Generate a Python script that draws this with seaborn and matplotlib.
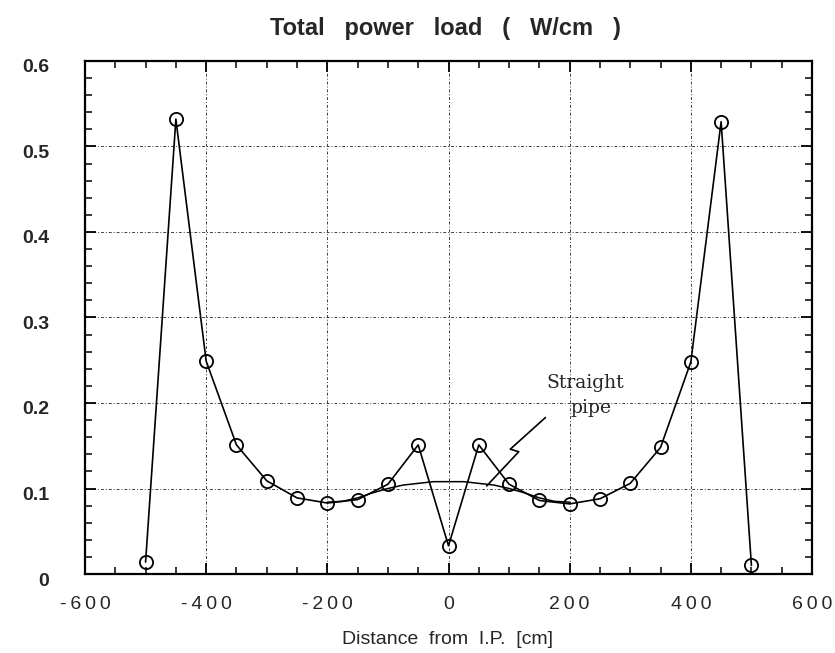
import numpy as np
import pandas as pd
import matplotlib
matplotlib.use("Agg")
import matplotlib.pyplot as plt
import matplotlib.transforms as mtransforms
import seaborn as sns
from matplotlib.ticker import MultipleLocator

# ---- data ----
distance = [-500, -450, -400, -350, -300, -250, -200, -150, -100, -50, 0,
            50, 100, 150, 200, 250, 300, 350, 400, 450, 500]
power = [0.014, 0.532, 0.249, 0.151, 0.109, 0.089, 0.083, 0.087, 0.105, 0.151, 0.033,
         0.151, 0.105, 0.086, 0.082, 0.088, 0.106, 0.148, 0.248, 0.529, 0.010]

pipe_x = [-200, -175, -150, -125, -100, -75, -50, -25, 0, 25, 50, 75, 100, 125, 150, 175, 200]
pipe_y = [0.084, 0.085, 0.089, 0.095, 0.100, 0.104, 0.106, 0.108, 0.108,
          0.108, 0.106, 0.104, 0.100, 0.095, 0.089, 0.085, 0.084]

# annotation leader (squiggle) from label to curve
lead_x = [160, 102, 116, 63]
lead_y = [0.183, 0.146, 0.143, 0.103]

title = "Total   power   load   (   W/cm   )"
xlabel = "Distance  from  I.P.  [cm]"
xticks = [-600, -400, -200, 0, 200, 400, 600]
yticks = [0, 0.1, 0.2, 0.3, 0.4, 0.5, 0.6]

sns.set_style("ticks")
plt.rcParams['font.family'] = ['Liberation Sans', 'DejaVu Sans']

fig = plt.figure(figsize=(8.35, 6.53), dpi=100)
L, R, T, B = 85, 812, 61, 574
ax = fig.add_axes([L / 835, 1 - B / 653, (R - L) / 835, (B - T) / 653])

df = pd.DataFrame({"x": distance, "y": power})
sns.lineplot(data=df, x="x", y="y", ax=ax, color="black", lw=1.2,
             marker="o", markersize=9.5, markerfacecolor="none",
             markeredgecolor="black", markeredgewidth=1.3, sort=False)

dp = pd.DataFrame({"x": pipe_x, "y": pipe_y})
sns.lineplot(data=dp, x="x", y="y", ax=ax, color="black", lw=1.1, sort=False)

ax.plot(lead_x, lead_y, color="black", lw=1.2)
ax.text(225, 0.223, "Straight", ha="center", va="center", fontsize=13.5,
        family="DejaVu Serif")
ax.text(236, 0.194, "pipe", ha="center", va="center", fontsize=13.5,
        family="DejaVu Serif")

ax.set_xlim(-600, 600)
ax.set_ylim(0, 0.6)
ax.set_xticks(xticks)
ax.set_yticks(yticks)
sp = "\u2009"
ax.set_xticklabels([sp.join(str(t)) for t in xticks])
ax.set_yticklabels(["0" if t == 0 else f"{t:.1f}" for t in yticks])
ax.xaxis.set_minor_locator(MultipleLocator(50))
ax.yaxis.set_minor_locator(MultipleLocator(0.02))
ax.tick_params(which="both", direction="in", top=True, right=True, color="black")
ax.tick_params(which="major", length=8, width=1.3, labelsize=14)
ax.tick_params(which="minor", length=5, width=1.1)
ax.tick_params(axis="x", which="major", pad=16)
ax.tick_params(axis="y", which="major", pad=26)
shift = mtransforms.ScaledTranslation(0, -5 / 100, fig.dpi_scale_trans)
for lab in ax.get_yticklabels():
    lab.set_fontweight("bold")
    lab.set_transform(lab.get_transform() + shift)

ax.grid(True, which="major", color="0.25", lw=0.7, ls=(0, (3, 2, 1, 2)))
for s in ax.spines.values():
    s.set_linewidth(1.6)
    s.set_color("black")

ax.set_xlabel("")
ax.set_ylabel("")
fig.text(448 / 835, 1 - 640 / 653, xlabel, ha="center", va="center", fontsize=14)
fig.text(445 / 835, 1 - 29 / 653, title, ha="center", va="center",
         fontsize=17, fontweight="bold")

fig.savefig("out.png", dpi=100)
